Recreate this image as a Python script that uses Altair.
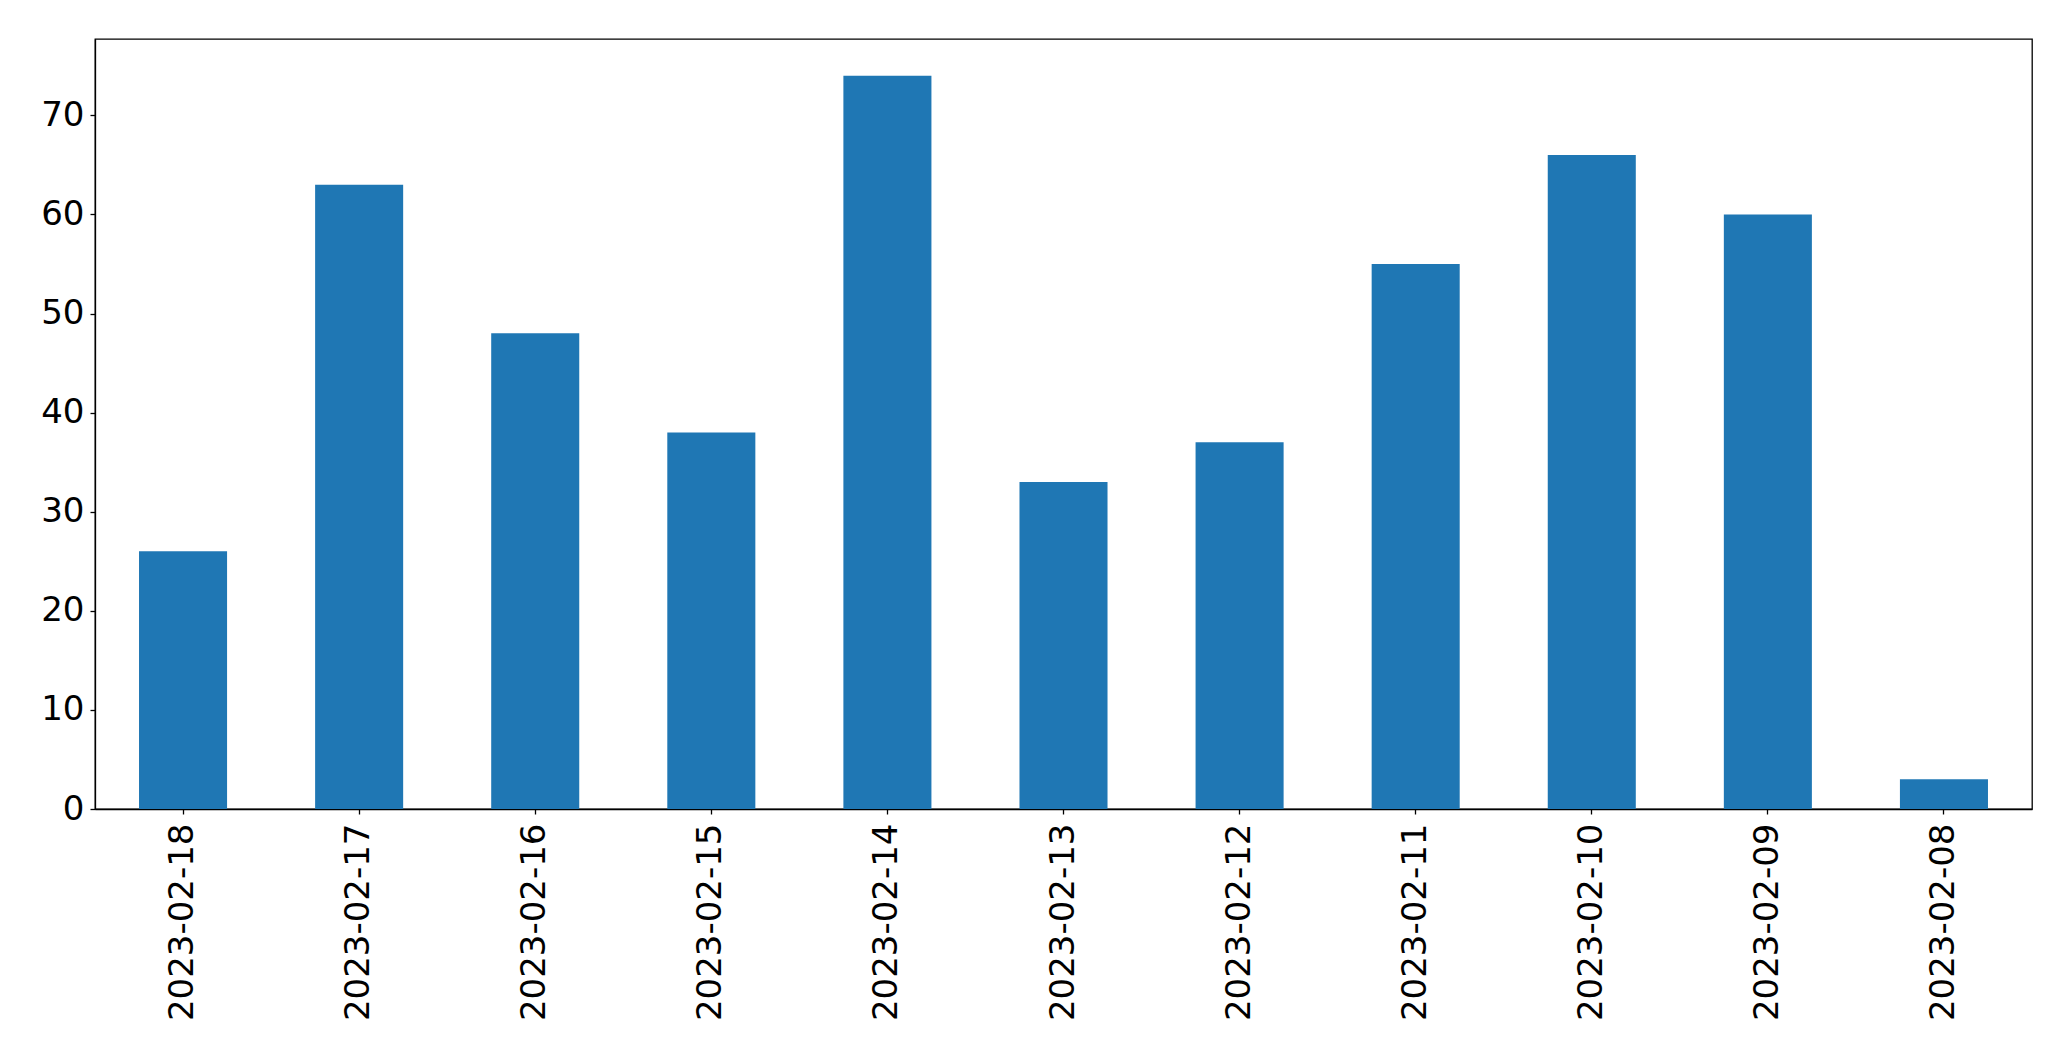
import altair as alt
import pandas as pd

dates = ["2023-02-18", "2023-02-17", "2023-02-16", "2023-02-15", "2023-02-14",
         "2023-02-13", "2023-02-12", "2023-02-11", "2023-02-10", "2023-02-09",
         "2023-02-08"]
counts = [26, 63, 48, 38, 74, 33, 37, 55, 66, 60, 3]
y_ticks = [0, 10, 20, 30, 40, 50, 60, 70]

df = pd.DataFrame({"date": dates, "count": counts})

chart = alt.Chart(df).mark_bar(color="#1f77b4").encode(
    x=alt.X("date:N", sort=dates, title=None,
            scale=alt.Scale(paddingInner=0.5, paddingOuter=0.25),
            axis=alt.Axis(labelAngle=270, labelAlign="right", labelBaseline="middle",
                          labelFontSize=34, labelFont="DejaVu Sans", labelColor="black",
                          labelLimit=0, labelOverlap=False,
                          tickColor="black", tickSize=5, tickWidth=1.3,
                          labelPadding=9, domainColor="black", domainWidth=1.3)),
    y=alt.Y("count:Q", title=None,
            scale=alt.Scale(domain=[0, 77.7], nice=False, zero=True),
            axis=alt.Axis(values=y_ticks, grid=False, labelFontSize=34,
                          labelFont="DejaVu Sans", labelColor="black",
                          tickColor="black", tickSize=5, tickWidth=1.3,
                          labelPadding=6, domainColor="black", domainWidth=1.3)),
).properties(
    width=1937, height=770,
    autosize=alt.AutoSizeParams(type="none"),
    padding={"left": 87, "top": 31, "right": 20, "bottom": 230},
).configure_view(
    stroke="black", strokeWidth=1.3
)

chart.save("out.html", embed_options={"renderer": "svg", "actions": False})
